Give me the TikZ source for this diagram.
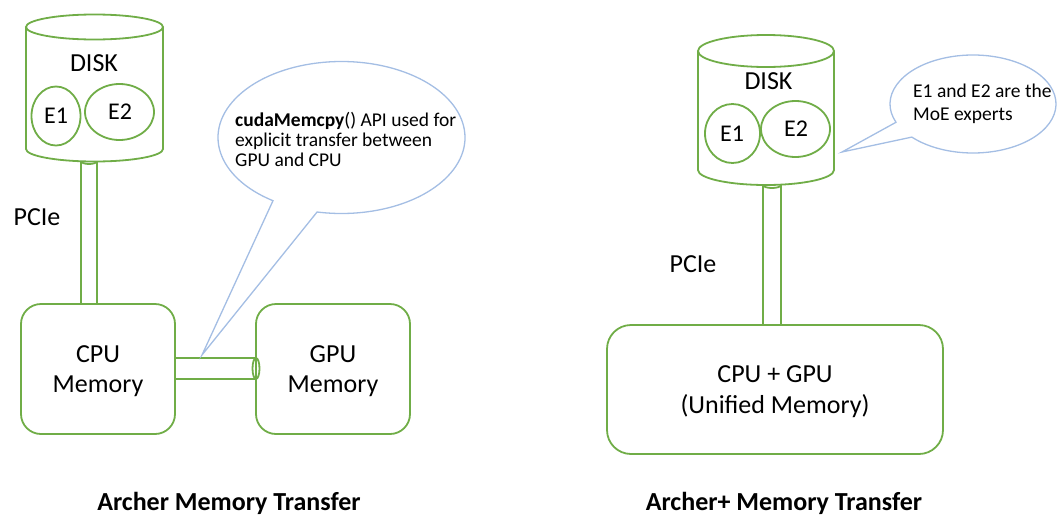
\documentclass[tikz,border=0pt]{standalone}
\usepackage{fontspec}
\setmainfont{Carlito}
\definecolor{grn}{HTML}{70AD47}
\definecolor{callblue}{HTML}{A4BEE4}
\begin{document}
\begin{tikzpicture}[x=1pt,y=-1pt,
  gl/.style={draw=grn, line width=1.8pt},
  membox/.style={gl, rounded corners=20pt},
  callout/.style={draw=callblue, line width=1.3pt, fill=white},
  lbl/.style={font=\fontsize{26}{30}\selectfont, inner sep=0pt},
  elbl/.style={font=\fontsize{24}{28}\selectfont, inner sep=0pt},
  ctext/.style={font=\fontsize{19.5}{22}\selectfont, inner sep=0pt, anchor=base west},
  ttl/.style={font=\fontsize{26}{30}\selectfont\bfseries, inner sep=0pt, anchor=base}]
\useasboundingbox (0,0) rectangle (1058,517);

% ---------------- Left: Archer ----------------
% memory boxes
\draw[membox] (21,304) rectangle (175,434);
\draw[membox] (256,304) rectangle (410,434);
\node[lbl] (cpu) at (98,354) {CPU};
\node[lbl] (cpumem) at (98,386) {Memory};
\node[lbl] (gpu) at (333,354) {GPU};
\node[lbl] (gpumem) at (333,386) {Memory};

% horizontal pipe
\draw[gl] (175,358) -- (256,358);
\draw[gl] (175,379) -- (256,379);
\draw[gl] (256,368.5) ellipse[x radius=3.5, y radius=10.5];

% vertical pipe
\draw[gl] (81,161) -- (81,304);
\draw[gl] (97,161) -- (97,304);
\draw[gl] (89,161) ellipse[x radius=8, y radius=3];

% disk cylinder
\draw[gl, fill=white] (26,27) -- (26,149) arc[start angle=180, end angle=0, x radius=68.5, y radius=12.5] -- (163,27);
\draw[gl] (94.5,27) ellipse[x radius=68.5, y radius=12.5];
\node[lbl] (disk1) at (94,63.5) {DISK};
\draw[gl] (56,116) ellipse[x radius=24.5, y radius=29.5];
\draw[gl] (119.5,112) ellipse[x radius=34.5, y radius=28];
\node[elbl] (e1a) at (56,116) {E1};
\node[elbl] (e2a) at (120,112) {E2};

\node[lbl] (pcie1) at (37,217.5) {PCIe};

% callout
\draw[callout] (341.5,137.5) ++(123.7:123.5 and 76)
  arc[start angle=123.7, end angle=461.4, x radius=123.5, y radius=76]
  -- (202,355) -- cycle;
\node[ctext] (c1) at (235,126) {\textbf{cudaMemcpy}() API used for};
\node[ctext] (c2) at (235,146) {explicit transfer between};
\node[ctext] (c3) at (235,166) {GPU and CPU};

\node[ttl] (t1) at (229,510) {Archer Memory Transfer};

% ---------------- Right: Archer+ ----------------
\draw[gl, rounded corners=24pt] (607,325) rectangle (943,454);
\node[lbl] (cg) at (775,374) {CPU + GPU};
\node[lbl] (um) at (775,406) {(Unified Memory)};

% pipe
\draw[gl] (763,185) -- (763,325);
\draw[gl] (781,185) -- (781,325);
\draw[gl] (772,185) ellipse[x radius=9, y radius=3];

% disk
\draw[gl, fill=white] (698,51) -- (698,170) arc[start angle=180, end angle=0, x radius=68, y radius=15] -- (834,51);
\draw[gl] (766,51) ellipse[x radius=68, y radius=16];
\node[lbl] (disk2) at (768.5,81.5) {DISK};
\draw[gl] (732.5,133.5) ellipse[x radius=27.5, y radius=29.5];
\draw[gl] (795.5,129) ellipse[x radius=34.5, y radius=28];
\node[elbl] (e1b) at (732,134) {E1};
\node[elbl] (e2b) at (796,129) {E2};

\node[lbl] (pcie2) at (693,264) {PCIe};

% callout
\draw[callout] (973,104) ++(158.1:83 and 49)
  arc[start angle=158.1, end angle=497.5, x radius=83, y radius=49]
  -- (842,152) -- cycle;
\node[ctext] (d1) at (913,97) {E1 and E2 are the};
\node[ctext] (d2) at (913,120) {MoE experts};

\node[ttl] (t2) at (784,510) {Archer+ Memory Transfer};
\end{tikzpicture}
\end{document}
